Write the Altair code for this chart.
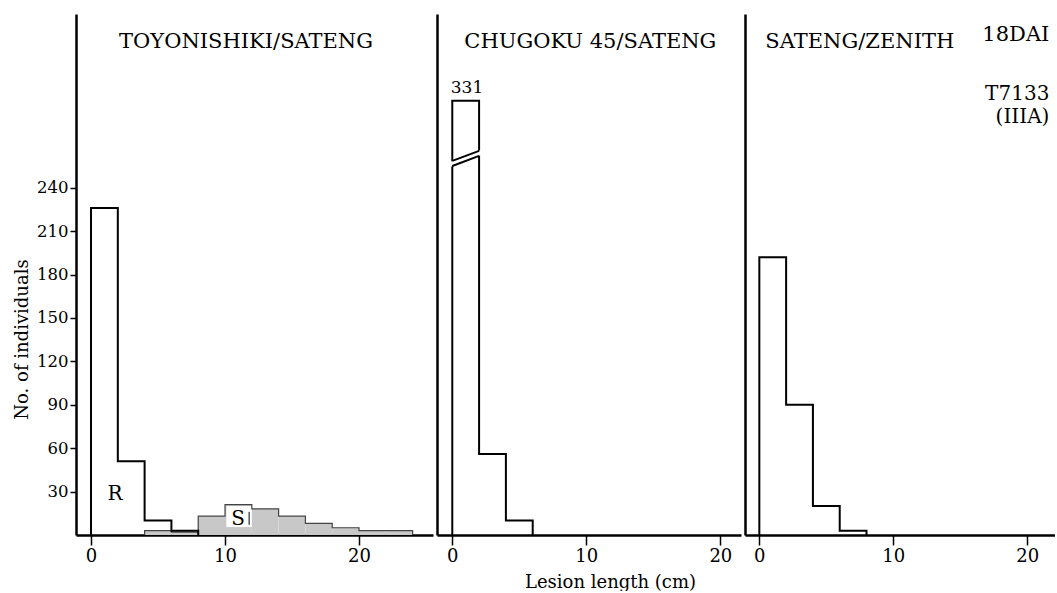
import altair as alt
import pandas as pd

FONT = "DejaVu Serif"

# ---- data ----
bin_width = 2
left_R_start = [0, 2, 4, 6]
left_R_count = [226, 51, 10, 3]
left_S_start = [4, 6, 8, 10, 12, 14, 16, 18, 20, 22]
left_S_count = [3, 2, 13, 21, 18, 13, 8, 5, 3, 3]
mid_start = [0, 2, 4]
mid_count = [331, 56, 10]
mid_break_cap = 300          # broken bar drawn to this height
right_start = [0, 2, 4, 6]
right_count = [192, 90, 20, 3]

y_ticks = [30, 60, 90, 120, 150, 180, 210, 240]
x_ticks = [0, 10, 20]

panel_titles = ["TOYONISHIKI/SATENG", "CHUGOKU 45/SATENG", "SATENG/ZENITH"]


def step_points(starts, counts, cap=None):
    shown = [min(c, cap) if cap else c for c in counts]
    last_end = starts[-1] + bin_width
    xs = [starts[0]] + list(starts) + [last_end, last_end]
    ys = [0] + shown + [shown[-1], 0]
    return pd.DataFrame({"x": xs, "y": ys, "i": list(range(len(xs)))})


def bins(starts, counts):
    return pd.DataFrame({
        "start": starts,
        "end": [s + bin_width for s in starts],
        "count": counts,
        "zero": [0] * len(starts),
    })


y_scale = alt.Scale(domain=[0, 360], nice=False, zero=True)

AX_COMMON = dict(
    labelFont=FONT, titleFont=FONT, labelColor="black", titleColor="black",
    domainColor="black", tickColor="black", grid=False, labelFontWeight="normal",
    titleFontWeight="normal",
)


def xaxis(title=None, **kw):
    return alt.Axis(values=x_ticks, tickSize=10, tickWidth=1.5, domainWidth=2.5,
                    labelFontSize=18, labelPadding=2, title=title, format="d",
                    **AX_COMMON, **kw)


Y_LEFT = alt.Axis(values=y_ticks, tickSize=6, tickWidth=1.5, domainWidth=2.5,
                  labelFontSize=16.5, labelPadding=2, format="d",
                  title="No. of individuals", titleFontSize=18,
                  titleAngle=-90, titleX=-54, titleY=325,
                  titleAlign="center", titleBaseline="middle", **AX_COMMON)
Y_PLAIN = alt.Axis(values=[0], ticks=False, labels=False, domainWidth=2.5,
                   title=None, **AX_COMMON)
X_LEFT = xaxis()
X_MID = xaxis(title="Lesion length (cm)", titleFontSize=18,
              titleX=173, titleY=52, titleAlign="center",
              titleBaseline="alphabetic")
X_RIGHT = xaxis()


def outline(df, xsc, xax, yax, color="black", width=2.0):
    return alt.Chart(df).mark_line(interpolate="step-after", color=color,
                                   strokeWidth=width, strokeJoin="miter").encode(
        x=alt.X("x:Q", scale=xsc, axis=xax),
        y=alt.Y("y:Q", scale=y_scale, axis=yax),
        order="i:Q",
    )


def text_layer(xs, ys, texts, xsc, xax, yax, size=21, align="center",
               baseline="alphabetic"):
    df = pd.DataFrame({"x": xs, "y": ys, "t": texts})
    return alt.Chart(df).mark_text(font=FONT, fontSize=size, align=align,
                                   baseline=baseline, color="black").encode(
        x=alt.X("x:Q", scale=xsc, axis=xax),
        y=alt.Y("y:Q", scale=y_scale, axis=yax),
        text="t:N",
    )


# ---------------- left panel ----------------
xs_left = alt.Scale(domain=[-1.12, 25.52], nice=False, zero=False)
S_fill = alt.Chart(bins(left_S_start, left_S_count)).mark_rect(
    fill="#c8c8c8", strokeWidth=0).encode(
    x=alt.X("start:Q", scale=xs_left, axis=X_LEFT),
    x2="end:Q",
    y=alt.Y("count:Q", scale=y_scale, axis=Y_LEFT),
    y2="zero:Q",
)
s_box = alt.Chart(pd.DataFrame({"a": [10.1], "b": [12.0], "c": [5.5], "d": [20.0]})).mark_rect(
    fill="white").encode(
    x=alt.X("a:Q", scale=xs_left, axis=X_LEFT), x2="b:Q",
    y=alt.Y("c:Q", scale=y_scale, axis=Y_LEFT), y2="d:Q")
s_tick = alt.Chart(pd.DataFrame({"a": [11.8], "c": [7.0], "d": [16.0]})).mark_rule(
    color="black", strokeWidth=1).encode(
    x=alt.X("a:Q", scale=xs_left, axis=X_LEFT),
    y=alt.Y("c:Q", scale=y_scale, axis=Y_LEFT), y2="d:Q")

left = alt.layer(
    S_fill, s_box,
    outline(step_points(left_S_start, left_S_count), xs_left, X_LEFT, Y_LEFT,
            color="#444444", width=1.2),
    outline(step_points(left_R_start, left_R_count), xs_left, X_LEFT, Y_LEFT),
    s_tick,
    text_layer([11.57], [336.3], [panel_titles[0]], xs_left, X_LEFT, Y_LEFT),
    text_layer([1.8], [28], ["R"], xs_left, X_LEFT, Y_LEFT, size=20, baseline="middle"),
    text_layer([10.97], [11], ["S"], xs_left, X_LEFT, Y_LEFT, size=20, baseline="middle"),
).properties(width=357, height=521)

# ---------------- middle panel ----------------
xs_mid = alt.Scale(domain=[-1.14, 21.54], nice=False, zero=False)
band = alt.Chart(pd.DataFrame({"x": [-0.2, 2.2], "lo": [254.1, 262.7], "hi": [257.8, 266.2]})).mark_area(
    color="white", opacity=1).encode(
    x=alt.X("x:Q", scale=xs_mid, axis=X_MID),
    y=alt.Y("lo:Q", scale=y_scale, axis=Y_PLAIN), y2="hi:Q")
brk = alt.Chart(pd.DataFrame({"x": [0, 2, 0, 2], "y": [258.5, 265.4, 255.0, 262.0],
                              "g": ["a", "a", "b", "b"]})).mark_line(
    color="black", strokeWidth=2).encode(
    x=alt.X("x:Q", scale=xs_mid, axis=X_MID),
    y=alt.Y("y:Q", scale=y_scale, axis=Y_PLAIN), detail="g:N")

middle = alt.layer(
    outline(step_points(mid_start, mid_count, cap=mid_break_cap), xs_mid, X_MID, Y_PLAIN),
    band, brk,
    text_layer([10.3], [336.3], [panel_titles[1]], xs_mid, X_MID, Y_PLAIN),
    text_layer([1.1], [305.5], [str(mid_count[0])], xs_mid, X_MID, Y_PLAIN, size=17),
).properties(width=304, height=521)

# ---------------- right panel ----------------
xs_right = alt.Scale(domain=[-1.07, 22.07], nice=False, zero=False)
right = alt.layer(
    outline(step_points(right_start, right_count), xs_right, X_RIGHT, Y_PLAIN),
    text_layer([7.5], [336.3], [panel_titles[2]], xs_right, X_RIGHT, Y_PLAIN),
    text_layer([21.65], [341.5], ["18DAI"], xs_right, X_RIGHT, Y_PLAIN, align="right"),
    text_layer([21.65], [300.5], ["T7133"], xs_right, X_RIGHT, Y_PLAIN, size=20, align="right"),
    text_layer([21.65], [285.0], ["(IIIA)"], xs_right, X_RIGHT, Y_PLAIN, size=20, align="right"),
).properties(width=310, height=521)

chart = alt.hconcat(left, middle, right, spacing=4).properties(
    padding={"left": 13, "top": 14, "right": 0, "bottom": 0},
    background="white",
).configure_view(stroke=None)

chart.save("out.html", embed_options={"renderer": "svg", "actions": False})
